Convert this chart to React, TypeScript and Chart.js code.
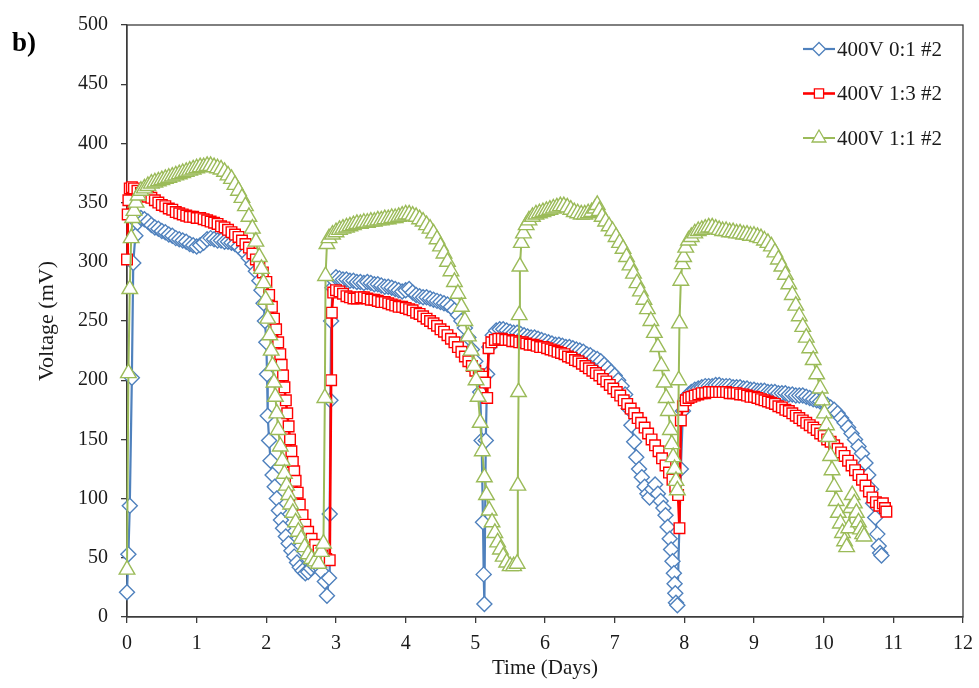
import React, { useEffect, useRef } from "react";
import { Chart, registerables } from "chart.js";

Chart.register(...registerables);

type Pt = [number, number];

const SERIES_LABELS = ["400V 0:1 #2", "400V 1:3 #2", "400V 1:1 #2"];
const X_MIN = 0;
const X_MAX = 12;
const X_STEP = 1;
const Y_MIN = 0;
const Y_MAX = 500;
const Y_STEP = 50;
const X_TITLE = "Time (Days)";
const Y_TITLE = "Voltage (mV)";
const PANEL_LABEL = "b)";

// 400V 0:1 #2 (blue diamonds)
const blueSeries: Pt[] = [
  [0, 21], [0.02, 53], [0.04, 94], [0.07, 202], [0.09, 299], [0.12, 322], [0.15, 333], [0.2, 337], [0.25, 336],
  [0.3, 334], [0.35, 331], [0.4, 329], [0.45, 328], [0.5, 326], [0.55, 325], [0.6, 323], [0.65, 322], [0.7, 320],
  [0.75, 319], [0.8, 318], [0.85, 317], [0.9, 315], [0.95, 314], [1.0, 313], [1.05, 314], [1.1, 316], [1.15, 319],
  [1.2, 320], [1.25, 319], [1.3, 318], [1.35, 318], [1.4, 317], [1.45, 317], [1.5, 316], [1.55, 315], [1.6, 313],
  [1.65, 310], [1.7, 307], [1.75, 303], [1.8, 298], [1.85, 292], [1.9, 284], [1.93, 276], [1.96, 265], [1.98, 250],
  [2.0, 232], [2.01, 205], [2.02, 170], [2.04, 149], [2.06, 132], [2.09, 120], [2.12, 110], [2.15, 100], [2.18, 90],
  [2.21, 82], [2.24, 75], [2.28, 68], [2.32, 62], [2.36, 56], [2.4, 51], [2.44, 46], [2.48, 42], [2.52, 39],
  [2.56, 37], [2.6, 38], [2.64, 41], [2.68, 44], [2.72, 46], [2.76, 42], [2.8, 38], [2.84, 30], [2.87, 18],
  [2.9, 33], [2.91, 87], [2.92, 183], [2.93, 250], [2.95, 278], [2.98, 284],
  [3.0, 287], [3.05, 286], [3.1, 285], [3.15, 285], [3.2, 284], [3.25, 284], [3.3, 283], [3.35, 283], [3.4, 282],
  [3.45, 283], [3.5, 282], [3.55, 281], [3.6, 281], [3.65, 280], [3.7, 279], [3.75, 279], [3.8, 278], [3.85, 277],
  [3.9, 276], [3.95, 275], [4.0, 276], [4.05, 277], [4.1, 274], [4.15, 272], [4.2, 271], [4.25, 270], [4.3, 270],
  [4.35, 269], [4.4, 268], [4.45, 267], [4.5, 266], [4.55, 265], [4.6, 264], [4.65, 262], [4.7, 259], [4.75, 255],
  [4.8, 250], [4.85, 244], [4.9, 236], [4.95, 226], [5.0, 216], [5.04, 205], [5.07, 190], [5.09, 149], [5.11, 80],
  [5.12, 36], [5.13, 11], [5.15, 149], [5.17, 205], [5.2, 228], [5.25, 238],
  [5.3, 242], [5.35, 243], [5.4, 243], [5.45, 242], [5.5, 241], [5.55, 240], [5.6, 240], [5.65, 239], [5.7, 238],
  [5.75, 237], [5.8, 236], [5.85, 236], [5.9, 235], [5.95, 234], [6.0, 233], [6.05, 232], [6.1, 231], [6.15, 230],
  [6.2, 230], [6.25, 229], [6.3, 228], [6.35, 228], [6.4, 227], [6.45, 226], [6.5, 225], [6.55, 224], [6.6, 222],
  [6.65, 221], [6.7, 219], [6.75, 218], [6.8, 216], [6.85, 213], [6.9, 210], [6.95, 207], [7.0, 204], [7.05, 200],
  [7.1, 195], [7.15, 188], [7.2, 176], [7.24, 162], [7.28, 148], [7.31, 135], [7.35, 125], [7.39, 118], [7.43, 110],
  [7.47, 104], [7.5, 101], [7.54, 108], [7.58, 112], [7.62, 104], [7.66, 98], [7.7, 92], [7.73, 86], [7.76, 76],
  [7.79, 66], [7.81, 57], [7.83, 47], [7.85, 37], [7.86, 28], [7.87, 20], [7.88, 12], [7.9, 10],
  [7.95, 125], [7.98, 174], [8.02, 184], [8.06, 188], [8.1, 190], [8.15, 192], [8.2, 193], [8.25, 194], [8.3, 195],
  [8.35, 195], [8.4, 195], [8.45, 196], [8.5, 196], [8.55, 195], [8.6, 195], [8.65, 195], [8.7, 194], [8.75, 194],
  [8.8, 194], [8.85, 193], [8.9, 193], [8.95, 192], [9.0, 192], [9.05, 191], [9.1, 191], [9.15, 191], [9.2, 190],
  [9.25, 190], [9.3, 190], [9.35, 189], [9.4, 189], [9.45, 189], [9.5, 188], [9.55, 188], [9.6, 187], [9.65, 187],
  [9.7, 187], [9.75, 186], [9.8, 185], [9.85, 184], [9.9, 183], [9.95, 182], [10.0, 181], [10.05, 179], [10.1, 177],
  [10.15, 175], [10.2, 172], [10.25, 168], [10.3, 164], [10.35, 160], [10.4, 155], [10.45, 150], [10.5, 144],
  [10.55, 138], [10.6, 130], [10.64, 120], [10.68, 108], [10.71, 96], [10.74, 84], [10.77, 70], [10.79, 60],
  [10.81, 54], [10.83, 52],
];

// 400V 1:3 #2 (red squares)
const redSeries: Pt[] = [
  [0, 302], [0.01, 340], [0.02, 352], [0.04, 362], [0.07, 363], [0.1, 362], [0.15, 360], [0.2, 358], [0.25, 356],
  [0.3, 355], [0.35, 354], [0.4, 352], [0.45, 350], [0.5, 348], [0.55, 347], [0.6, 345], [0.65, 344], [0.7, 342],
  [0.75, 341], [0.8, 340], [0.85, 339], [0.9, 338], [0.95, 338], [1.0, 337], [1.05, 337], [1.1, 336], [1.15, 335],
  [1.2, 334], [1.25, 333], [1.3, 332], [1.35, 330], [1.4, 329], [1.45, 327], [1.5, 325], [1.55, 323], [1.6, 321],
  [1.65, 318], [1.7, 315], [1.75, 312], [1.8, 307], [1.85, 302], [1.9, 297], [1.95, 291], [2.0, 283], [2.04, 272],
  [2.08, 262], [2.11, 252], [2.14, 243], [2.17, 232], [2.2, 222], [2.22, 213], [2.24, 204], [2.26, 194], [2.28, 183],
  [2.3, 172], [2.32, 161], [2.34, 150], [2.36, 140], [2.38, 131], [2.4, 123], [2.42, 115], [2.45, 105], [2.48, 95],
  [2.52, 86], [2.56, 78], [2.6, 72], [2.65, 66], [2.7, 61], [2.75, 56], [2.8, 52], [2.86, 49], [2.91, 48],
  [2.93, 200], [2.94, 257], [2.96, 274],
  [3.0, 276], [3.05, 275], [3.1, 273], [3.15, 271], [3.2, 270], [3.25, 269], [3.3, 269], [3.35, 270], [3.4, 270],
  [3.45, 269], [3.5, 268], [3.55, 268], [3.6, 267], [3.65, 266], [3.7, 266], [3.75, 265], [3.8, 264], [3.85, 263],
  [3.9, 262], [3.95, 262], [4.0, 261], [4.05, 260], [4.1, 259], [4.15, 257], [4.2, 256], [4.25, 254], [4.3, 252],
  [4.35, 250], [4.4, 248], [4.45, 246], [4.5, 243], [4.55, 241], [4.6, 238], [4.65, 235], [4.7, 232], [4.75, 228],
  [4.8, 224], [4.85, 220], [4.9, 216], [4.95, 212], [5.0, 208], [5.05, 205], [5.1, 203], [5.14, 198], [5.17, 185],
  [5.19, 227], [5.23, 232],
  [5.28, 234], [5.33, 235], [5.38, 235], [5.43, 234], [5.48, 234], [5.53, 233], [5.58, 233], [5.63, 232], [5.68, 232],
  [5.73, 231], [5.78, 230], [5.83, 230], [5.88, 229], [5.93, 228], [5.98, 228], [6.03, 227], [6.08, 226], [6.13, 225],
  [6.18, 224], [6.23, 223], [6.28, 222], [6.33, 220], [6.38, 219], [6.43, 217], [6.48, 216], [6.53, 214], [6.58, 212],
  [6.63, 210], [6.68, 208], [6.73, 206], [6.78, 204], [6.83, 201], [6.88, 199], [6.93, 196], [6.98, 193], [7.03, 190],
  [7.08, 187], [7.13, 183], [7.18, 180], [7.23, 176], [7.28, 172], [7.33, 168], [7.38, 164], [7.43, 160], [7.48, 155],
  [7.53, 150], [7.58, 145], [7.63, 140], [7.68, 134], [7.73, 128], [7.78, 122], [7.83, 116], [7.87, 110], [7.91, 103],
  [7.93, 75], [7.95, 166], [7.98, 178],
  [8.02, 183], [8.06, 185], [8.1, 186], [8.15, 187], [8.2, 188], [8.25, 189], [8.3, 189], [8.35, 190], [8.4, 190],
  [8.45, 190], [8.5, 190], [8.55, 190], [8.6, 190], [8.65, 189], [8.7, 189], [8.75, 189], [8.8, 188], [8.85, 188],
  [8.9, 187], [8.95, 186], [9.0, 186], [9.05, 185], [9.1, 184], [9.15, 183], [9.2, 182], [9.25, 181], [9.3, 180],
  [9.35, 178], [9.4, 177], [9.45, 175], [9.5, 174], [9.55, 172], [9.6, 170], [9.65, 168], [9.7, 166], [9.75, 164],
  [9.8, 162], [9.85, 160], [9.9, 158], [9.95, 155], [10.0, 153], [10.05, 150], [10.1, 148], [10.15, 145], [10.2, 142],
  [10.25, 139], [10.3, 136], [10.35, 132], [10.4, 128], [10.45, 124], [10.5, 120], [10.55, 116], [10.6, 111],
  [10.65, 106], [10.7, 101], [10.75, 97], [10.8, 94], [10.85, 96], [10.88, 92], [10.9, 89],
];

// 400V 1:1 #2 (green triangles)
const greenSeries: Pt[] = [
  [0, 40], [0.02, 206], [0.04, 277], [0.06, 320], [0.08, 337], [0.1, 343], [0.13, 350], [0.16, 356], [0.2, 360],
  [0.25, 362], [0.3, 364], [0.35, 366], [0.4, 367], [0.45, 368], [0.5, 369], [0.55, 370], [0.6, 371], [0.65, 372],
  [0.7, 373], [0.75, 374], [0.8, 375], [0.85, 376], [0.9, 377], [0.95, 378], [1.0, 379], [1.05, 380], [1.1, 380],
  [1.15, 381], [1.2, 381], [1.25, 380], [1.3, 379], [1.35, 378], [1.4, 376], [1.45, 373], [1.5, 370], [1.55, 365],
  [1.6, 360], [1.65, 354], [1.7, 347], [1.75, 338], [1.8, 328], [1.85, 317], [1.9, 304], [1.93, 294], [1.96, 282],
  [1.99, 268], [2.02, 252], [2.05, 238], [2.07, 225], [2.09, 212], [2.11, 198], [2.13, 186], [2.15, 172], [2.17, 158],
  [2.2, 144], [2.23, 132], [2.26, 121], [2.29, 111], [2.32, 103], [2.35, 95], [2.38, 88], [2.42, 80], [2.46, 72],
  [2.5, 66], [2.55, 59], [2.6, 53], [2.65, 49], [2.7, 47], [2.75, 45], [2.79, 55], [2.82, 62], [2.84, 185],
  [2.85, 288], [2.87, 315],
  [2.9, 320], [2.95, 323], [3.0, 325], [3.05, 327], [3.1, 328], [3.15, 329], [3.2, 330], [3.25, 331], [3.3, 332],
  [3.35, 332], [3.4, 333], [3.45, 333], [3.5, 334], [3.55, 334], [3.6, 335], [3.65, 335], [3.7, 336], [3.75, 336],
  [3.8, 337], [3.85, 337], [3.9, 338], [3.95, 339], [4.0, 340], [4.05, 340], [4.1, 339], [4.15, 338], [4.2, 336],
  [4.25, 334], [4.3, 331], [4.35, 328], [4.4, 324], [4.45, 319], [4.5, 313], [4.55, 307], [4.6, 300], [4.65, 292],
  [4.7, 283], [4.75, 273], [4.8, 262], [4.85, 250], [4.9, 237], [4.94, 225], [4.98, 212], [5.01, 200], [5.04, 186],
  [5.07, 164], [5.1, 140], [5.13, 118], [5.16, 103], [5.2, 90], [5.24, 80], [5.28, 71], [5.32, 63], [5.36, 57],
  [5.4, 51], [5.45, 46], [5.5, 43], [5.55, 43], [5.6, 45], [5.61, 111], [5.62, 190], [5.63, 255], [5.64, 296],
  [5.66, 316], [5.69, 324], [5.73, 331],
  [5.77, 335], [5.82, 338], [5.87, 340], [5.92, 341], [5.97, 342], [6.02, 343], [6.07, 344], [6.12, 345], [6.17, 346],
  [6.22, 347], [6.27, 347], [6.32, 346], [6.37, 344], [6.42, 342], [6.47, 341], [6.52, 340], [6.57, 340], [6.62, 341],
  [6.67, 342], [6.72, 345], [6.75, 348], [6.78, 343], [6.82, 338], [6.87, 334], [6.92, 330], [6.97, 326], [7.02, 321],
  [7.07, 316], [7.12, 311], [7.17, 304], [7.22, 297], [7.27, 290], [7.32, 282], [7.37, 275], [7.42, 268], [7.47, 260],
  [7.52, 250], [7.57, 240], [7.62, 228], [7.67, 212], [7.71, 198], [7.74, 185], [7.77, 174], [7.8, 158], [7.82, 146],
  [7.84, 135], [7.86, 125], [7.88, 115], [7.9, 107], [7.92, 200], [7.93, 248], [7.95, 284], [7.97, 298], [7.99, 304],
  [8.02, 312], [8.06, 318],
  [8.1, 321], [8.15, 324], [8.2, 326], [8.25, 327], [8.3, 328], [8.35, 329], [8.4, 329], [8.45, 328], [8.5, 327],
  [8.55, 326], [8.6, 326], [8.65, 325], [8.7, 325], [8.75, 324], [8.8, 324], [8.85, 323], [8.9, 323], [8.95, 322],
  [9.0, 322], [9.05, 321], [9.1, 320], [9.15, 318], [9.2, 316], [9.25, 313], [9.3, 308], [9.35, 302], [9.4, 296],
  [9.45, 289], [9.5, 281], [9.55, 272], [9.6, 263], [9.65, 254], [9.7, 245], [9.75, 236], [9.8, 227], [9.85, 217],
  [9.9, 205], [9.95, 193], [9.98, 183], [10.01, 172], [10.04, 162], [10.07, 152], [10.1, 136], [10.12, 124],
  [10.15, 110], [10.18, 98], [10.21, 88], [10.24, 79], [10.27, 71], [10.3, 64], [10.33, 59], [10.36, 75],
  [10.39, 92], [10.41, 103], [10.44, 96], [10.47, 88], [10.5, 80], [10.53, 74], [10.56, 70], [10.58, 68],
];

const SERIES_COLORS = ["#4F81BD", "#FF0000", "#9BBB59"];
const FONT = "'Liberation Serif', 'Times New Roman', Times, serif";
const TEXT_COLOR = "#1a1a1a";
const AXIS_COLOR = "#3c3c3c";

function drawMarker(ctx: CanvasRenderingContext2D, style: string, x: number, y: number, r: number) {
  ctx.beginPath();
  if (style === "rectRot") {
    ctx.moveTo(x, y - r);
    ctx.lineTo(x + r, y);
    ctx.lineTo(x, y + r);
    ctx.lineTo(x - r, y);
    ctx.closePath();
  } else if (style === "rect") {
    const s = r * Math.SQRT1_2;
    ctx.rect(x - s, y - s, 2 * s, 2 * s);
  } else {
    const h = (Math.sqrt(3) / 2) * r;
    ctx.moveTo(x, y - r);
    ctx.lineTo(x + h, y + r / 2);
    ctx.lineTo(x - h, y + r / 2);
    ctx.closePath();
  }
  ctx.fill();
  ctx.stroke();
}

export default function App() {
  const canvasRef = useRef<HTMLCanvasElement>(null);

  useEffect(() => {
    const canvas = canvasRef.current;
    if (!canvas) return;

    const styles = ["rectRot", "rect", "triangle"];
    const radii = [7.5, 7.5, 9];
    const lineWidths = [2.2, 2.6, 2];
    const orders = [2, 1, 0];
    const seriesData = [blueSeries, redSeries, greenSeries];

    const datasets = seriesData.map((s, i) => ({
      label: SERIES_LABELS[i],
      data: s.map(([x, y]) => ({ x, y })),
      borderColor: SERIES_COLORS[i],
      backgroundColor: "#ffffff",
      pointBackgroundColor: "#ffffff",
      pointBorderColor: SERIES_COLORS[i],
      pointBorderWidth: 1.4,
      pointStyle: styles[i],
      pointRadius: radii[i],
      pointHoverRadius: radii[i],
      borderWidth: lineWidths[i],
      tension: 0,
      order: orders[i],
      clip: false as any,
    }));

    const framePlugin = {
      id: "frame",
      beforeDatasetsDraw(chart: any) {
        const { ctx, chartArea } = chart;
        ctx.save();
        ctx.strokeStyle = AXIS_COLOR;
        ctx.lineWidth = 1.3;
        ctx.strokeRect(chartArea.left, chartArea.top, chartArea.right - chartArea.left, chartArea.bottom - chartArea.top);
        ctx.restore();
      },
    };

    const legendPlugin = {
      id: "boxLegend",
      afterDraw(chart: any) {
        const { ctx, chartArea } = chart;
        const x0 = chartArea.right - 160;
        const x1 = chartArea.right - 128;
        ctx.save();
        ctx.font = `21px ${FONT}`;
        ctx.textBaseline = "middle";
        ctx.textAlign = "left";
        SERIES_LABELS.forEach((label, i) => {
          const y = chartArea.top + 24 + i * 44.5;
          ctx.strokeStyle = SERIES_COLORS[i];
          ctx.lineWidth = lineWidths[i];
          ctx.beginPath();
          ctx.moveTo(x0, y);
          ctx.lineTo(x1, y);
          ctx.stroke();
          ctx.fillStyle = "#ffffff";
          ctx.lineWidth = 1.3;
          drawMarker(ctx, styles[i], (x0 + x1) / 2, y, radii[i] - 1);
          ctx.fillStyle = TEXT_COLOR;
          ctx.fillText(label, x1 + 2, y + 1);
        });
        ctx.restore();
      },
    };

    const chart = new Chart(canvas, {
      type: "line",
      data: { datasets: datasets as any },
      options: {
        animation: false,
        responsive: false,
        devicePixelRatio: 1,
        layout: { padding: { top: 24, right: 16, left: 0, bottom: 0 } },
        plugins: {
          legend: { display: false },
          tooltip: { enabled: false },
          title: { display: false },
        },
        scales: {
          x: {
            type: "linear",
            min: X_MIN,
            max: X_MAX,
            afterFit: (scale: any) => {
              scale.height = 71;
            },
            ticks: {
              stepSize: X_STEP,
              color: TEXT_COLOR,
              font: { family: FONT, size: 20, lineHeight: 1.45 },
              padding: 6,
              maxRotation: 0,
            },
            grid: { drawOnChartArea: false, drawTicks: true, tickLength: 6, color: AXIS_COLOR, lineWidth: 1.3 },
            border: { display: true, color: AXIS_COLOR, width: 1.3 },
            title: {
              display: true,
              text: X_TITLE,
              color: TEXT_COLOR,
              font: { family: FONT, size: 21 },
              padding: { top: 0, bottom: 7 },
            },
          },
          y: {
            type: "linear",
            min: Y_MIN,
            max: Y_MAX,
            afterFit: (scale: any) => {
              scale.width = 127;
            },
            ticks: {
              stepSize: Y_STEP,
              color: TEXT_COLOR,
              font: { family: FONT, size: 20 },
              padding: 13,
            },
            grid: { drawOnChartArea: false, drawTicks: true, tickLength: 6, color: AXIS_COLOR, lineWidth: 1.3 },
            border: { display: true, color: AXIS_COLOR, width: 1.3 },
            title: {
              display: true,
              text: Y_TITLE,
              color: TEXT_COLOR,
              font: { family: FONT, size: 22 },
              padding: { top: 34, bottom: 0 },
            },
          },
        },
      },
      plugins: [framePlugin, legendPlugin],
    });

    return () => chart.destroy();
  }, []);

  return (
    <div style={{ position: "absolute", left: 0, top: 0, width: 979, height: 688, background: "#ffffff" }}>
      <canvas ref={canvasRef} width={979} height={688} style={{ display: "block" }} />
      <div
        style={{
          position: "absolute",
          left: 12,
          top: 26,
          font: `bold 27px ${FONT}`,
          color: "#000",
          lineHeight: "32px",
        }}
      >
        {PANEL_LABEL}
      </div>
    </div>
  );
}
